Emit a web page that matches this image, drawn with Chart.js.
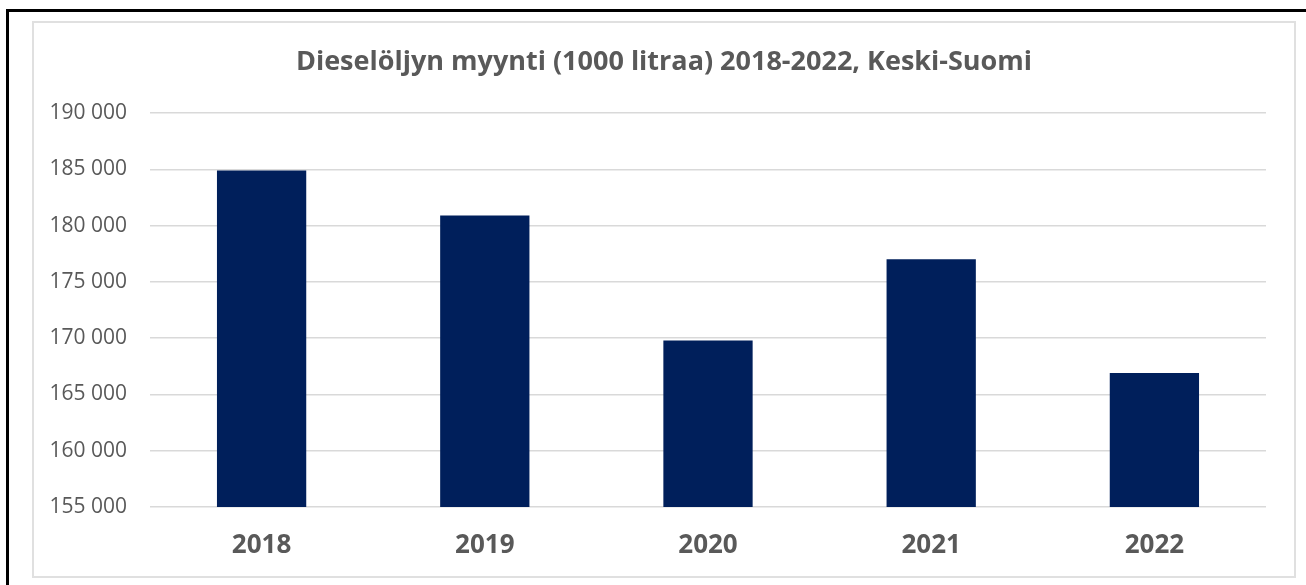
<!DOCTYPE html>
<html>
<head>
<meta charset="utf-8">
<script src="https://cdn.jsdelivr.net/npm/chart.js@4/dist/chart.umd.min.js"></script>
<style>
  html, body { margin: 0; padding: 0; background: #fff; }
  body { width: 1306px; height: 585px; position: relative; overflow: hidden; }
  #frame { position: absolute; left: 6px; top: 9px; width: 1400px; height: 700px;
           border-top: 3px solid #000; border-left: 3px solid #000; box-sizing: border-box; }
  #box { position: absolute; left: 32px; top: 21px; width: 1264px; height: 557px;
         border: 2px solid #e0e0e0; box-sizing: border-box; }
  #wrap { position: absolute; left: 32px; top: 21px; width: 1264px; height: 557px; }
</style>
</head>
<body>
<div id="frame"></div>
<div id="box"></div>
<div id="wrap"><canvas id="c"></canvas></div>
<script>
// Dieselöljyn myynti, Keski-Suomi (1000 litraa)
const vuodet = ["2018", "2019", "2020", "2021", "2022"];
const myynti = [184900, 180900, 169800, 177000, 166900];
const yMin = 155000;
const yMax = 190000;
const yStep = 5000;

const otsikko = "Dieselöljyn myynti (1000 litraa) 2018-2022, Keski-Suomi";
const harmaa = "#595959";

// Otsikko keskitetään koko laatikon leveydelle (ei piirtoalueelle)
const otsikkoPlugin = {
  id: "otsikko",
  afterDraw(chart) {
    const ctx = chart.ctx;
    ctx.save();
    ctx.font = "bold 27px 'Open Sans'";
    ctx.fillStyle = harmaa;
    ctx.textAlign = "center";
    ctx.textBaseline = "middle";
    ctx.fillText(otsikko, chart.width / 2, 41);
    ctx.restore();
  },
};

new Chart(document.getElementById("c"), {
  type: "bar",
  data: {
    labels: vuodet,
    datasets: [{
      label: "Myynti",
      data: myynti,
      backgroundColor: "#001F5B",
      borderWidth: 0,
      barPercentage: 0.4,
      categoryPercentage: 1.0,
    }],
  },
  plugins: [otsikkoPlugin],
  options: {
    responsive: true,
    maintainAspectRatio: false,
    animation: false,
    layout: { padding: { top: 92, right: 30, bottom: 17, left: 0 } },
    plugins: {
      legend: { display: false },
      tooltip: { enabled: false },
      title: { display: false },
    },
    scales: {
      x: {
        afterFit: (s) => { s.height = 54; },
        grid: { display: false, drawTicks: false },
        border: { display: false },
        ticks: {
          color: harmaa,
          padding: 23,
          font: { family: "Open Sans", size: 26, weight: "bold", lineHeight: 1.2 },
        },
      },
      y: {
        min: yMin,
        max: yMax,
        afterFit: (s) => { s.width = 118; },
        grid: { color: "#d9d9d9", lineWidth: 1.5, drawTicks: false },
        border: { display: false },
        ticks: {
          stepSize: yStep,
          color: harmaa,
          padding: 23,
          font: { family: "Open Sans", size: 21 },
          callback: (v) => String(v).replace(/\B(?=(\d{3})+(?!\d))/g, " "),
        },
      },
    },
  },
});
</script>
</body>
</html>
